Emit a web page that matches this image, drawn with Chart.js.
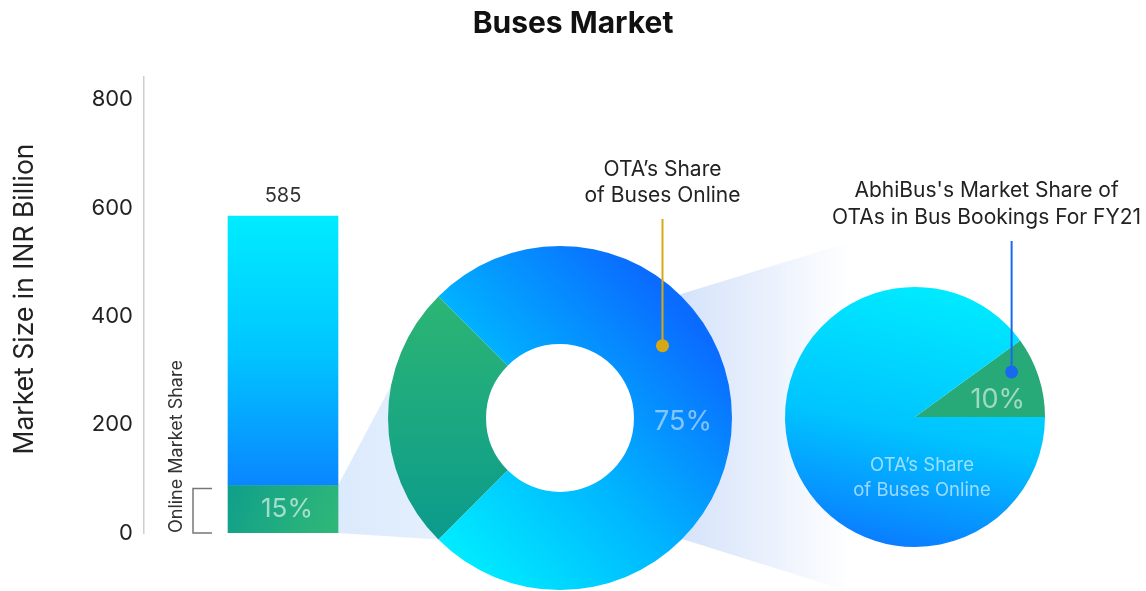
<!DOCTYPE html>
<html>
<head>
<meta charset="utf-8">
<script src="https://cdn.jsdelivr.net/npm/chart.js@4.4.1/dist/chart.umd.min.js"></script>
<style>
  html, body { margin: 0; padding: 0; background: #fff; overflow: hidden; }
  #wrap { position: relative; width: 1146px; height: 591px; }
  #wrap canvas { position: absolute; left: 0; top: 0; }
  #title {
    position: absolute; left: 0; right: 0; top: 4px; z-index: 5;
    text-align: center; font: 700 30px Inter, sans-serif; color: #111;
  }
</style>
</head>
<body>
<div id="wrap">
  <div id="title">Buses Market</div>
  <canvas id="bar" width="1146" height="591"></canvas>
  <canvas id="donut" width="1146" height="591"></canvas>
  <canvas id="pie" width="1146" height="591"></canvas>
</div>
<script>
// market size, INR billion (585 total, 15% online)
const barCategories = ['Buses'];
const onlineValues = [87.75];
const offlineValues = [497.25];
const yTicks = [0, 200, 400, 600, 800];

// OTA share of online bus bookings
const otaLabels = ['OTAs', 'Other online'];
const otaValues = [75, 25];

// AbhiBus share of OTA bus bookings, FY21
const abhiLabels = ['AbhiBus', 'Other OTAs'];
const abhiValues = [10, 90];

const FONT = 'Inter, sans-serif';
const W = 1146, H = 591;
const piePad = {left: 785, right: W - 1045, top: 287, bottom: H - 547};

function pieArea() {
    const w = W - piePad.left - piePad.right;
    return {cx: piePad.left + w / 2, cy: piePad.top + w / 2, r: w / 2};
}

function text(ctx, str, x, y, size, color, align = 'center', weight = 400) {
    ctx.save();
    ctx.font = `${weight} ${size}px ${FONT}`;
    ctx.fillStyle = color;
    ctx.textAlign = align;
    ctx.textBaseline = 'middle';
    ctx.fillText(str, x, y);
    ctx.restore();
}

function callout(ctx, lines, tx, ty, lh, x, y, color) {
    lines.forEach((l, i) => text(ctx, l, tx, ty + i * lh, 21, '#222'));
    ctx.save();
    ctx.strokeStyle = color;
    ctx.fillStyle = color;
    ctx.lineWidth = 2;
    ctx.beginPath();
    ctx.moveTo(x, ty + (lines.length - 1) * lh + 23);
    ctx.lineTo(x, y);
    ctx.stroke();
    ctx.beginPath();
    ctx.arc(x, y, 6.5, 0, Math.PI * 2);
    ctx.fill();
    ctx.restore();
}

function total() {
    return onlineValues[0] + offlineValues[0];
}

// ---------- bar ----------
const barLabels = {
    id: 'barLabels',
    afterDatasetsDraw(chart) {
        const ctx = chart.ctx;
        const green = chart.getDatasetMeta(0).data[0];
        const blue = chart.getDatasetMeta(1).data[0];
        const pct = Math.round(onlineValues[0] / total() * 100);

        text(ctx, String(total()), blue.x, blue.y - 20, 20, '#333');
        text(ctx, pct + '%', green.x + 4, (green.y + green.base) / 2, 26, 'rgba(255,255,255,0.6)');

        // bracket + rotated label for the online part
        const left = green.x - green.width / 2;
        ctx.save();
        ctx.strokeStyle = '#777';
        ctx.lineWidth = 1.5;
        ctx.beginPath();
        ctx.moveTo(left - 16, green.y + 3);
        ctx.lineTo(left - 35, green.y + 3);
        ctx.lineTo(left - 35, green.base);
        ctx.lineTo(left - 16, green.base);
        ctx.stroke();
        ctx.translate(left - 51, green.base);
        ctx.rotate(-Math.PI / 2);
        text(ctx, 'Online Market Share', 0, 0, 18, '#333', 'left');
        ctx.restore();

        // y axis title
        const y = chart.scales.y;
        ctx.save();
        ctx.translate(25, (y.top + y.bottom) / 2 - 6);
        ctx.rotate(-Math.PI / 2);
        text(ctx, 'Market Size in INR Billion', 0, 0, 26.5, '#222');
        ctx.restore();
    }
};

const barChart = new Chart(document.getElementById('bar'), {
    type: 'bar',
    data: {
        labels: barCategories,
        datasets: [{
            label: 'Online',
            data: onlineValues,
            backgroundColor: c => {
                const a = c.chart.chartArea;
                if (!a) return '#20aa80';
                const y = c.chart.scales.y;
                const g = c.chart.ctx.createLinearGradient(230, y.getPixelForValue(onlineValues[0]), 330, y.getPixelForValue(0));
                g.addColorStop(0, '#0f9f8b');
                g.addColorStop(1, '#2fb778');
                return g;
            },
        }, {
            label: 'Offline',
            data: offlineValues,
            backgroundColor: c => {
                const a = c.chart.chartArea;
                if (!a) return '#00c8ff';
                const y = c.chart.scales.y;
                const g = c.chart.ctx.createLinearGradient(0, y.getPixelForValue(total()), 0, y.getPixelForValue(onlineValues[0]));
                g.addColorStop(0, '#00ecff');
                g.addColorStop(0.5, '#00c6ff');
                g.addColorStop(1, '#0a86ff');
                return g;
            },
        }]
    },
    options: {
        responsive: false,
        animation: false,
        barThickness: 110,
        layout: {padding: {left: 0, right: W - 422, top: 77, bottom: H - 533}},
        plugins: {legend: {display: false}, tooltip: {enabled: false}},
        scales: {
            x: {stacked: true, display: false},
            y: {
                stacked: true,
                min: 0,
                max: 842,
                afterBuildTicks: s => { s.ticks = yTicks.map(v => ({value: v})); },
                afterFit: s => { s.width = 144; },
                ticks: {padding: 11, color: '#222', font: {family: FONT, size: 22}},
                grid: {display: false, drawTicks: false},
                border: {display: true, color: '#cfcfcf', width: 1.5},
            }
        }
    },
    plugins: [barLabels]
});

// ---------- doughnut ----------
const donutDecor = {
    id: 'donutDecor',
    beforeDatasetsDraw(chart) {
        const ctx = chart.ctx;
        const arcs = chart.getDatasetMeta(0).data;
        const greenArc = arcs[1];
        const cx = greenArc.x, cy = greenArc.y, R = greenArc.outerRadius;
        const bar = barChart.getDatasetMeta(0).data[0];
        const bx = bar.x + bar.width / 2;

        // funnel: bar online part -> doughnut green arc
        const up = [cx + R * Math.cos(greenArc.endAngle), cy + R * Math.sin(greenArc.endAngle)];
        const lo = [cx + R * Math.cos(greenArc.startAngle), cy + R * Math.sin(greenArc.startAngle)];
        let g = ctx.createLinearGradient(bx, 0, up[0], 0);
        g.addColorStop(0, 'rgba(40,130,240,0.17)');
        g.addColorStop(1, 'rgba(40,130,240,0.12)');
        ctx.save();
        ctx.fillStyle = g;
        ctx.beginPath();
        ctx.moveTo(bx, bar.y);
        ctx.lineTo(up[0], up[1]);
        ctx.lineTo(lo[0], lo[1]);
        ctx.lineTo(bx, bar.base);
        ctx.closePath();
        ctx.fill();

        // funnel: doughnut -> pie
        const p = pieArea();
        const sx = cx + R * 0.7;
        g = ctx.createLinearGradient(sx, 0, p.cx - p.r * 0.5, 0);
        g.addColorStop(0, 'rgba(40,110,230,0.2)');
        g.addColorStop(1, 'rgba(40,110,230,0)');
        ctx.fillStyle = g;
        ctx.beginPath();
        ctx.moveTo(sx, cy - R * 0.72);
        ctx.lineTo(p.cx, p.cy - p.r * 1.5);
        ctx.lineTo(p.cx, p.cy + p.r * 1.5);
        ctx.lineTo(sx, cy + R * 0.7);
        ctx.closePath();
        ctx.fill();
        ctx.restore();
    },
    afterDatasetsDraw(chart) {
        const ctx = chart.ctx;
        const blueArc = chart.getDatasetMeta(0).data[0];
        const pos = blueArc.tooltipPosition();
        text(ctx, otaValues[0] + '%', pos.x, pos.y + 4, 27, 'rgba(255,255,255,0.5)');

        const mid = (blueArc.innerRadius + blueArc.outerRadius) / 2;
        const a = -36 * Math.PI / 180;
        const dx = blueArc.x + mid * Math.cos(a) + 3;
        const dy = blueArc.y + mid * Math.sin(a);
        callout(ctx, ['OTA\u2019s Share', 'of Buses Online'], dx, 170, 26, dx, dy, '#d8a812');
    }
};

new Chart(document.getElementById('donut'), {
    type: 'doughnut',
    data: {
        labels: otaLabels,
        datasets: [{
            data: otaValues,
            borderWidth: 0,
            backgroundColor: c => {
                const a = c.chart.chartArea;
                if (!a) return c.dataIndex ? '#20aa80' : '#00b0ff';
                const ctx = c.chart.ctx;
                const cx = (a.left + a.right) / 2, cy = (a.top + a.bottom) / 2, r = a.width / 2;
                let g;
                if (c.dataIndex === 0) {
                    g = ctx.createLinearGradient(cx - r * 0.5, cy + r * 0.9, cx + r * 0.9, cy - r * 0.4);
                    g.addColorStop(0, '#00ebff');
                    g.addColorStop(0.45, '#00b8ff');
                    g.addColorStop(1, '#0a6cff');
                } else {
                    g = ctx.createLinearGradient(0, cy - r * 0.75, 0, cy + r * 0.75);
                    g.addColorStop(0, '#2db673');
                    g.addColorStop(1, '#0a9a8d');
                }
                return g;
            }
        }]
    },
    options: {
        responsive: false,
        animation: false,
        cutout: '43%',
        rotation: -45,
        layout: {padding: {left: 388, right: W - 732, top: 246, bottom: 1}},
        plugins: {legend: {display: false}, tooltip: {enabled: false}}
    },
    plugins: [donutDecor]
});

// ---------- pie ----------
const pieLabels = {
    id: 'pieLabels',
    afterDatasetsDraw(chart) {
        const ctx = chart.ctx;
        const green = chart.getDatasetMeta(0).data[0];
        const R = green.outerRadius;
        const la = green.startAngle + (green.endAngle - green.startAngle) * 0.67;
        text(ctx, abhiValues[0] + '%', green.x + R * 0.65 * Math.cos(la), green.y + R * 0.65 * Math.sin(la), 27, 'rgba(255,255,255,0.55)');

        text(ctx, 'OTA\u2019s Share', green.x + 7, green.y + 48, 18.5, 'rgba(255,255,255,0.6)');
        text(ctx, 'of Buses Online', green.x + 7, green.y + 73, 18.5, 'rgba(255,255,255,0.6)');

        const a = -25 * Math.PI / 180;
        const dx = green.x + R * 0.82 * Math.cos(a);
        const dy = green.y + R * 0.82 * Math.sin(a);
        callout(ctx, ['AbhiBus\'s Market Share of', 'OTAs in Bus Bookings For FY21'], dx - 25, 191, 27, dx, dy, '#1769f0');
    }
};

new Chart(document.getElementById('pie'), {
    type: 'pie',
    data: {
        labels: abhiLabels,
        datasets: [{
            data: abhiValues,
            borderWidth: 0,
            backgroundColor: c => {
                const a = c.chart.chartArea;
                if (!a) return c.dataIndex ? '#00c0ff' : '#27a97a';
                if (c.dataIndex === 0) return '#28aa78';
                const g = c.chart.ctx.createLinearGradient(a.left + a.width * 0.6, a.top, a.left + a.width * 0.4, a.bottom);
                g.addColorStop(0, '#00ebff');
                g.addColorStop(0.55, '#00c4ff');
                g.addColorStop(1, '#0a7cff');
                return g;
            }
        }]
    },
    options: {
        responsive: false,
        animation: false,
        rotation: 54,
        layout: {padding: piePad},
        plugins: {legend: {display: false}, tooltip: {enabled: false}}
    },
    plugins: [pieLabels]
});
</script>
</body>
</html>
